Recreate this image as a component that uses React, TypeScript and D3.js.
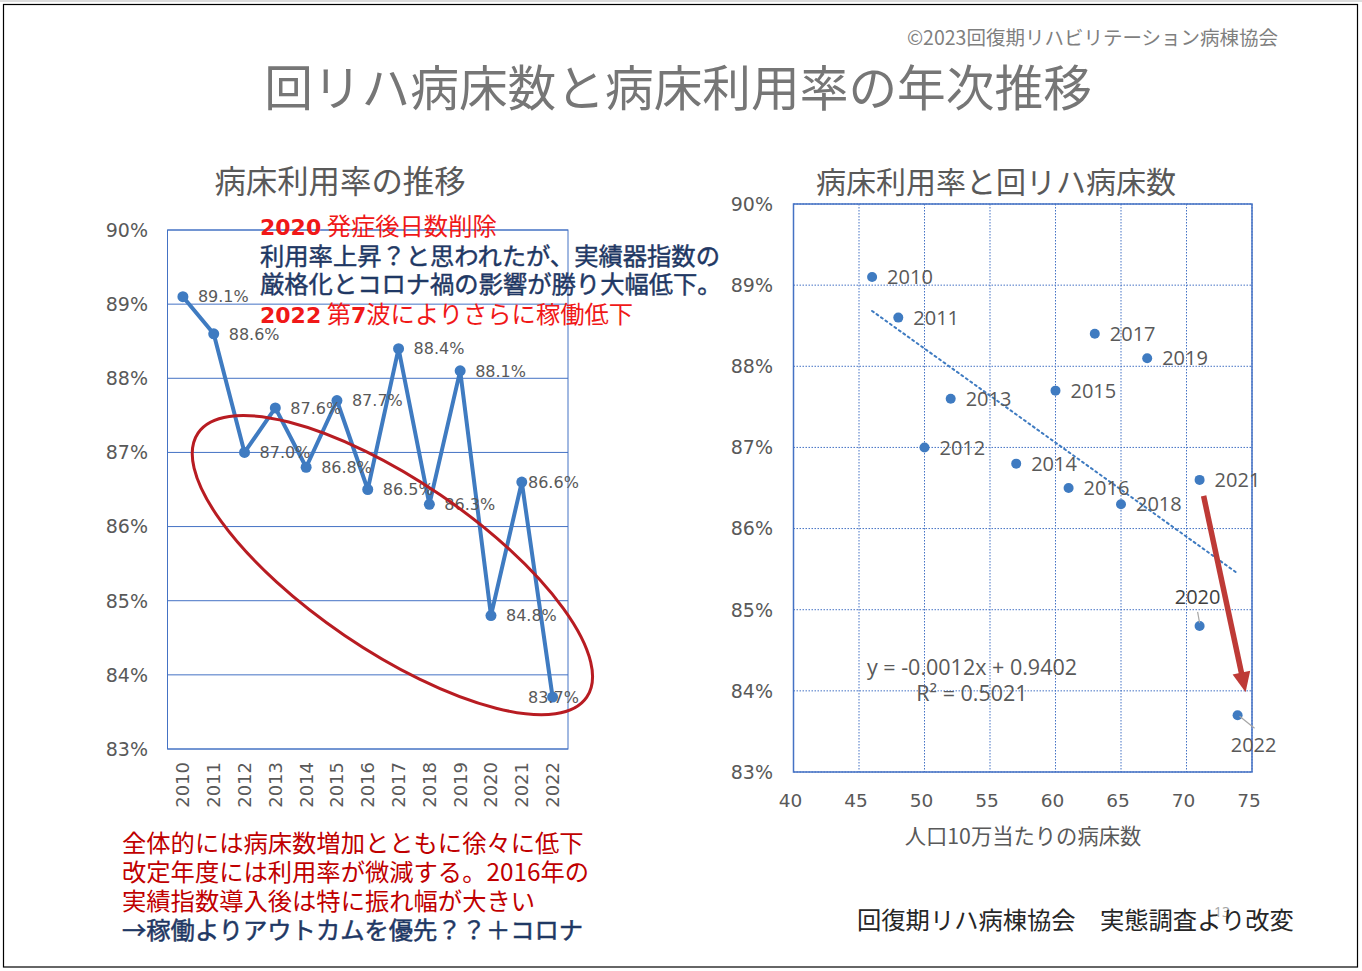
import React from "react";
import * as d3 from "d3";

// ---------- data ----------
const years = ["2010", "2011", "2012", "2013", "2014", "2015", "2016", "2017", "2018", "2019", "2020", "2021", "2022"];
const occupancyRate = [89.1, 88.6, 87.0, 87.6, 86.8, 87.7, 86.5, 88.4, 86.3, 88.1, 84.8, 86.6, 83.7];
const bedsPer100k = [46.0, 48.0, 50.0, 52.0, 57.0, 60.0, 61.0, 63.0, 65.0, 67.0, 71.0, 71.0, 73.9];
const rateTicks = [83, 84, 85, 86, 87, 88, 89, 90];
const bedTicks = [40, 45, 50, 55, 60, 65, 70, 75];

const mainTitle = "回リハ病床数と病床利用率の年次推移";
const copyright = "©2023回復期リハビリテーション病棟協会";
const leftTitle = "病床利用率の推移";
const rightTitle = "病床利用率と回リハ病床数";
const rightXTitle = "人口10万当たりの病床数";
const equationText = "y = -0.0012x + 0.9402";
const r2Text = "R² = 0.5021";
const sourceText = "回復期リハ病棟協会　実態調査より改変";
const noteRed = ["全体的には病床数増加とともに徐々に低下", "改定年度には利用率が微減する。2016年の", "実績指数導入後は特に振れ幅が大きい"];
const noteBlue = "→稼働よりアウトカムを優先？？＋コロナ";

const JP = "'Noto Sans CJK JP', 'Noto Sans', sans-serif";
const NUM = "'DejaVu Sans', Verdana, sans-serif";
const NUM2 = "'Open Sans', 'Noto Sans', sans-serif";
const GRAY = "#595959";
const BLUE = "#3F7BC1";
const GRID = "#4472C4";

export default function App() {
  // left chart scales
  const xL = d3.scaleBand<string>().domain(years).range([167.5, 568]).padding(0);
  const cx = (y: string) => (xL(y) as number) + xL.bandwidth() / 2;
  const yL = d3.scaleLinear().domain([83, 90]).range([749, 230]);
  const line = d3
    .line<number>()
    .x((_, i) => cx(years[i]))
    .y((d) => yL(d));

  // right chart scales
  const xR = d3.scaleLinear().domain([40, 75]).range([793.5, 1252]);
  const yR = d3.scaleLinear().domain([83, 90]).range([772, 204]);

  // least squares trend
  const mx = d3.mean(bedsPer100k) as number;
  const my = d3.mean(occupancyRate) as number;
  let sxy = 0, sxx = 0;
  bedsPer100k.forEach((x, i) => {
    sxy += (x - mx) * (occupancyRate[i] - my);
    sxx += (x - mx) * (x - mx);
  });
  const slope = sxy / sxx;
  const icpt = my - slope * mx;
  const tx0 = d3.min(bedsPer100k) as number;
  const tx1 = d3.max(bedsPer100k) as number;

  // arrow 2021 -> 2022
  const i21 = years.indexOf("2021");
  const i22 = years.indexOf("2022");
  const a0: [number, number] = [xR(bedsPer100k[i21]) + 4, yR(occupancyRate[i21]) + 16];
  const a1: [number, number] = [xR(bedsPer100k[i22]) + 8, yR(occupancyRate[i22]) - 23];
  const dx = a1[0] - a0[0], dy = a1[1] - a0[1];
  const len = Math.hypot(dx, dy);
  const ux = dx / len, uy = dy / len;
  const headLen = 20, headW = 9;
  const hb: [number, number] = [a1[0] - ux * headLen, a1[1] - uy * headLen];
  const head = `${a1[0]},${a1[1]} ${hb[0] - uy * headW},${hb[1] + ux * headW} ${hb[0] + uy * headW},${hb[1] - ux * headW}`;

  // ellipse annotation (left chart)
  const ellCx = cx("2016") + 0.8 * xL.bandwidth();
  const ellCy = yL(85.48);

  const labelW = 56;
  const labelMaxLeft = 584 - labelW;

  return (
    <svg
      width={1362}
      height={971}
      style={{ position: "absolute", left: 0, top: 0, background: "#fff" }}
      xmlns="http://www.w3.org/2000/svg"
    >
      <rect x={0} y={0} width={1362} height={971} fill="#fff" />
      <line x1={0} x2={1362} y1={1} y2={1} stroke="#d0d0d0" strokeWidth={1.5} />
      <rect x={3.5} y={4.5} width={1354} height={962.5} fill="none" stroke="#000" strokeWidth={1.2} />

      <text x={1278} y={45} textAnchor="end" fontFamily={JP} fontSize={19.5} fill="#7f7f7f">
        {copyright}
      </text>
      <text x={678} y={106} textAnchor="middle" fontFamily={JP} fontSize={48.7} fill="#767676">
        {mainTitle}
      </text>

      {/* ---------- left chart ---------- */}
      <text x={340} y={193} textAnchor="middle" fontFamily={JP} fontSize={31.4} fill={GRAY}>
        {leftTitle}
      </text>
      {rateTicks.map((t) => (
        <g key={"lt" + t}>
          <line x1={167.5} x2={568} y1={yL(t)} y2={yL(t)} stroke={GRID} strokeWidth={1} />
          <text x={148} y={yL(t)} dy="0.36em" textAnchor="end" fontFamily={NUM} fontSize={19} fill={GRAY}>
            {t}%
          </text>
        </g>
      ))}
      <rect x={167.5} y={230} width={400.5} height={519} fill="none" stroke={GRID} strokeWidth={1} />
      {years.map((y) => (
        <text
          key={"xl" + y}
          transform={`translate(${cx(y)},762) rotate(-90)`}
          dy="0.36em"
          textAnchor="end"
          fontFamily={NUM}
          fontSize={18}
          fill={GRAY}
        >
          {y}
        </text>
      ))}
      <path d={line(occupancyRate) as string} fill="none" stroke={BLUE} strokeWidth={4} strokeLinejoin="round" />
      {occupancyRate.map((v, i) => (
        <circle key={"pl" + i} cx={cx(years[i])} cy={yL(v)} r={5.5} fill={BLUE} />
      ))}
      {occupancyRate.map((v, i) => (
        <text
          key={"dl" + i}
          x={Math.min(cx(years[i]) + 15, labelMaxLeft)}
          y={yL(v)}
          dy="0.36em"
          fontFamily={NUM}
          fontSize={16}
          fill={GRAY}
        >
          {v.toFixed(1)}%
        </text>
      ))}
      <ellipse
        cx={ellCx}
        cy={ellCy}
        rx={235}
        ry={85}
        transform={`rotate(34.2 ${ellCx} ${ellCy})`}
        fill="none"
        stroke="#B81C22"
        strokeWidth={3}
      />

      {/* annotation */}
      <g fontFamily={JP} fontSize={24.3}>
        <text x={260} y={235} fill="#F01818">
          <tspan fontFamily={NUM} fontWeight="bold" fontSize={22}>2020</tspan>
          <tspan> 発症後日数削除</tspan>
        </text>
        <text x={260} y={265} fill="#1F3864" stroke="#1F3864" strokeWidth={0.45}>
          利用率上昇？と思われたが、実績器指数の
        </text>
        <text x={260} y={293} fill="#1F3864" stroke="#1F3864" strokeWidth={0.45}>
          厳格化とコロナ禍の影響が勝り大幅低下。
        </text>
        <text x={260} y={323} fill="#F01818">
          <tspan fontFamily={NUM} fontWeight="bold" fontSize={22}>2022</tspan>
          <tspan> 第</tspan>
          <tspan fontFamily={NUM} fontWeight="bold" fontSize={22}>7</tspan>
          <tspan>波によりさらに稼働低下</tspan>
        </text>
      </g>

      {/* ---------- right chart ---------- */}
      <text x={996} y={193} textAnchor="middle" fontFamily={JP} fontSize={30} fill={GRAY}>
        {rightTitle}
      </text>
      {rateTicks.map((t) => (
        <g key={"rt" + t}>
          <line
            x1={793.5}
            x2={1252}
            y1={yR(t)}
            y2={yR(t)}
            stroke={GRID}
            strokeWidth={1}
            strokeDasharray="1.5 1.5"
          />
          <text x={773} y={yR(t)} dy="0.36em" textAnchor="end" fontFamily={NUM} fontSize={19} fill={GRAY}>
            {t}%
          </text>
        </g>
      ))}
      {bedTicks.map((t) => (
        <g key={"bt" + t}>
          <line
            x1={xR(t)}
            x2={xR(t)}
            y1={204}
            y2={772}
            stroke={GRID}
            strokeWidth={1}
            strokeDasharray="1.5 1.5"
          />
          <text x={xR(t) - 3} y={800} dy="0.36em" textAnchor="middle" fontFamily={NUM} fontSize={18.5} fill={GRAY}>
            {t}
          </text>
        </g>
      ))}
      <rect x={793.5} y={204} width={458.5} height={568} fill="none" stroke={GRID} strokeWidth={1.5} />
      <text x={1023} y={844} textAnchor="middle" fontFamily={JP} fontSize={21.3} fill={GRAY}>
        {rightXTitle}
      </text>

      <line
        x1={xR(tx0)}
        y1={yR(icpt + slope * tx0)}
        x2={xR(tx1)}
        y2={yR(icpt + slope * tx1)}
        stroke={BLUE}
        strokeWidth={2}
        strokeDasharray="2 3.5"
        strokeLinecap="round"
      />
      <text x={972} y={667} dy="0.36em" textAnchor="middle" fontFamily={NUM2} fontSize={21.5} fill={GRAY}>
        {equationText}
      </text>
      <text x={972} y={693} dy="0.36em" textAnchor="middle" fontFamily={NUM2} fontSize={21.5} fill={GRAY}>
        {r2Text}
      </text>

      {bedsPer100k.map((b, i) => (
        <circle key={"sp" + i} cx={xR(b)} cy={yR(occupancyRate[i])} r={5} fill={BLUE} />
      ))}
      {bedsPer100k.map((b, i) => {
        const px = xR(b);
        const py = yR(occupancyRate[i]);
        const yr = years[i];
        if (yr === "2020") {
          return (
            <g key={"sl" + i}>
              <line x1={px - 2} y1={py - 14} x2={px} y2={py - 3} stroke="#A6A6A6" strokeWidth={1.2} />
              <text x={px - 2} y={py - 29} dy="0.36em" textAnchor="middle" fontFamily={NUM2} fontSize={20} fill="#404040">
                {yr}
              </text>
            </g>
          );
        }
        if (yr === "2022") {
          return (
            <g key={"sl" + i}>
              <line x1={px + 2} y1={py + 1} x2={px + 17} y2={py + 13} stroke="#A6A6A6" strokeWidth={1.2} />
              <text x={px + 16} y={py + 30} dy="0.36em" textAnchor="middle" fontFamily={NUM2} fontSize={20} fill={GRAY}>
                {yr}
              </text>
            </g>
          );
        }
        return (
          <text key={"sl" + i} x={px + 15} y={py} dy="0.36em" fontFamily={NUM2} fontSize={20} fill={GRAY}>
            {yr}
          </text>
        );
      })}

      {/* red arrow */}
      <line x1={a0[0]} y1={a0[1]} x2={hb[0] + ux * 2} y2={hb[1] + uy * 2} stroke="#BE3A36" strokeWidth={5.5} />
      <polygon points={head} fill="#BE3A36" />

      {/* bottom notes */}
      <g fontFamily={JP} fontSize={24.3}>
        {noteRed.map((t, i) => (
          <text key={"nr" + i} x={122} y={852 + i * 29} fill="#C00000">
            {t}
          </text>
        ))}
        <text x={122} y={939} fill="#1F3864" stroke="#1F3864" strokeWidth={0.5}>
          {noteBlue}
        </text>
      </g>

      <text x={1222} y={917} textAnchor="middle" fontFamily={NUM2} fontSize={14} fill="#A6A6A6">
        13
      </text>
      <text x={857} y={929} fontFamily={JP} fontSize={24.3} fill="#262626">
        {sourceText}
      </text>
    </svg>
  );
}
